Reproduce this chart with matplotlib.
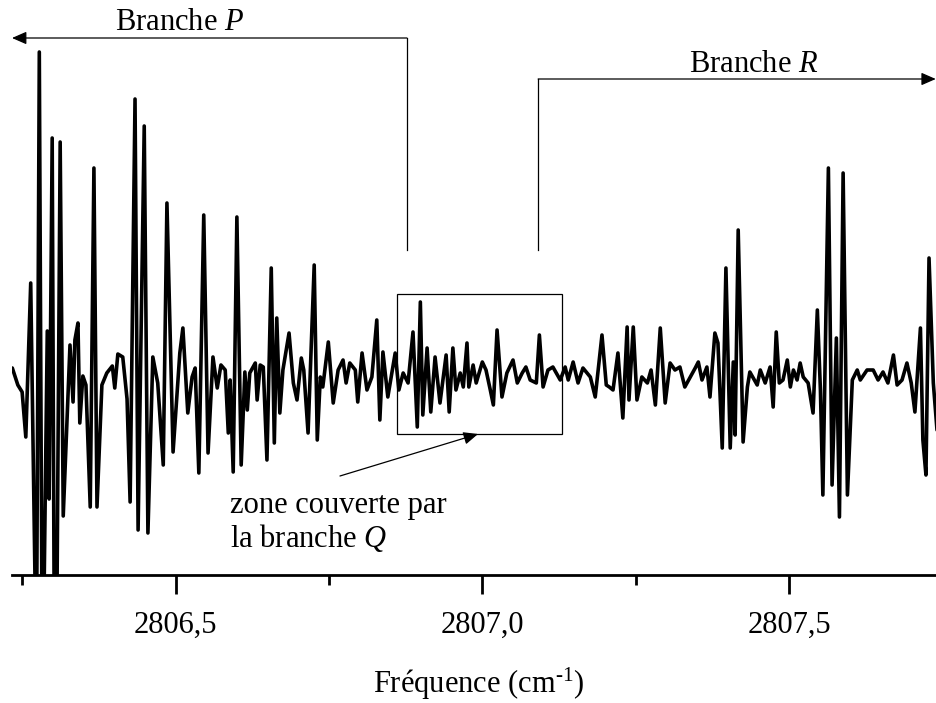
import matplotlib
matplotlib.use("Agg")
import matplotlib.pyplot as plt

plt.rcParams["font.family"] = ["Liberation Serif", "DejaVu Serif"]
plt.rcParams["mathtext.fontset"] = "custom"
plt.rcParams["mathtext.rm"] = "Liberation Serif"
plt.rcParams["mathtext.it"] = "Liberation Serif:italic"

# Spectrum (wavenumber in cm-1, signal in arbitrary units)
freq = [
    2806.234, 2806.243, 2806.250, 2806.256, 2806.264, 2806.268, 2806.271, 2806.274, 2806.278, 2806.282,
    2806.286, 2806.291, 2806.294, 2806.299, 2806.302, 2806.307, 2806.312, 2806.317, 2806.328, 2806.333,
    2806.336, 2806.341, 2806.344, 2806.349, 2806.354, 2806.361, 2806.367, 2806.372, 2806.380, 2806.388,
    2806.397, 2806.401, 2806.406, 2806.414, 2806.421, 2806.426, 2806.434, 2806.439, 2806.449, 2806.455,
    2806.463, 2806.471, 2806.480, 2806.486, 2806.496, 2806.507, 2806.512, 2806.520, 2806.527, 2806.532,
    2806.538, 2806.546, 2806.553, 2806.561, 2806.568, 2806.574, 2806.581, 2806.586, 2806.589, 2806.594,
    2806.600, 2806.607, 2806.613, 2806.617, 2806.621, 2806.630, 2806.633, 2806.638, 2806.643, 2806.649,
    2806.656, 2806.661, 2806.665, 2806.670, 2806.675, 2806.685, 2806.692, 2806.698, 2806.705, 2806.709,
    2806.716, 2806.726, 2806.731, 2806.736, 2806.740, 2806.749, 2806.757, 2806.765, 2806.773, 2806.778,
    2806.784, 2806.793, 2806.797, 2806.804, 2806.812, 2806.820, 2806.828, 2806.833, 2806.838, 2806.846,
    2806.858, 2806.864, 2806.871, 2806.879, 2806.887, 2806.894, 2806.899, 2806.903, 2806.910, 2806.916,
    2806.923, 2806.931, 2806.941, 2806.946, 2806.952, 2806.957, 2806.964, 2806.969, 2806.975, 2806.978,
    2806.985, 2806.990, 2807.000, 2807.006, 2807.013, 2807.018, 2807.024, 2807.032, 2807.040, 2807.050,
    2807.057, 2807.065, 2807.071, 2807.078, 2807.088, 2807.093, 2807.099, 2807.107, 2807.115, 2807.127,
    2807.135, 2807.140, 2807.148, 2807.156, 2807.164, 2807.176, 2807.184, 2807.195, 2807.202, 2807.207,
    2807.213, 2807.221, 2807.229, 2807.236, 2807.239, 2807.246, 2807.252, 2807.260, 2807.269, 2807.275,
    2807.282, 2807.290, 2807.298, 2807.306, 2807.314, 2807.322, 2807.330, 2807.339, 2807.347, 2807.352,
    2807.358, 2807.366, 2807.371, 2807.379, 2807.384, 2807.391, 2807.397, 2807.404, 2807.409, 2807.412,
    2807.417, 2807.425, 2807.432, 2807.436, 2807.448, 2807.453, 2807.461, 2807.469, 2807.474, 2807.479,
    2807.484, 2807.490, 2807.497, 2807.502, 2807.507, 2807.513, 2807.518, 2807.523, 2807.531, 2807.539,
    2807.546, 2807.551, 2807.555, 2807.564, 2807.570, 2807.577, 2807.582, 2807.588, 2807.595, 2807.603,
    2807.611, 2807.616, 2807.627, 2807.637, 2807.645, 2807.653, 2807.661, 2807.670, 2807.676, 2807.684,
    2807.692, 2807.699, 2807.705, 2807.714, 2807.718, 2807.723, 2807.728, 2807.735, 2807.741,
]

signal = [
    10, -7, -14, -59, 95, -76, -202, -202, 326, -202,
    -202, 47, -121, 240, -202, -202, 236, -138, 33, -24,
    38, 55, -45, 2, -7, -129, 210, -129, -7, 5,
    12, -10, 24, 21, -21, -124, 279, -152, 252, -155,
    21, -5, -87, 175, -74, 25, 50, -35, 1, 10,
    -95, 163, -75, 21, -10, 13, 8, -55, -2, -94,
    161, -87, 6, -32, 5, 15, -22, 13, 11, -82,
    110, -65, 60, -35, 8, 45, -5, -22, 20, 8,
    -55, 113, -62, 1, -9, 36, -25, 8, 18, -5,
    15, 8, -24, 25, -12, 1, 58, -42, 26, -19,
    25, -12, 5, -5, 46, -49, 76, -37, 30, -34,
    21, -25, 23, -34, 30, -12, 5, -9, 35, -9,
    13, -5, 16, 8, -12, -27, 48, -19, 5, 18,
    -5, 5, 11, -2, -5, 43, -9, 8, 11, -2,
    11, -2, 16, -5, 10, 1, -19, 43, -7, -9,
    -12, 25, -40, 51, -22, 51, -22, 1, -5, 8,
    -27, 50, -25, 15, 8, 11, -9, 1, 10, 16,
    -2, 11, -19, 45, 35, -70, 110, -70, 16, -57,
    148, -64, -9, 6, -7, 8, -5, 11, -29, 46,
    -5, -2, 18, -9, 8, -2, 15, 1, -5, -35,
    68, -12, -117, 210, -107, 40, -139, 205, -117, -2,
    8, -2, 8, 8, -2, 6, -5, 23, -7, -2,
    15, -5, -34, 50, -62, -97, 120, -5, -52,
]

major_ticks = [2806.5, 2807.0, 2807.5]
major_labels = ["2806,5", "2807,0", "2807,5"]
minor_ticks = [2806.25, 2806.75, 2807.25]

fig = plt.figure(figsize=(9.37, 7.03), dpi=100)
ax = fig.add_axes([12 / 937, 128 / 703, 925 / 937, 575 / 703])

ax.plot(freq, signal, color="black", lw=2.6, solid_joinstyle="round",
        solid_capstyle="round")

ax.set_xlim(2806.2335, 2807.741)
ax.set_ylim(-197, 378)

for side in ("top", "right", "left"):
    ax.spines[side].set_visible(False)
ax.spines["bottom"].set_linewidth(2.0)
ax.set_yticks([])
ax.set_xticks(major_ticks)
ax.set_xticklabels(major_labels)
ax.set_xticks(minor_ticks, minor=True)
ax.tick_params(axis="x", which="major", direction="out", length=13.5, width=2.0,
               pad=12, labelsize=22)
ax.tick_params(axis="x", which="minor", direction="out", length=7, width=2.0)

ax.set_xlabel("Fréquence (cm$^{\\mathregular{\u2010}1}$)", fontsize=22)
ax.xaxis.set_label_coords(0.505, -0.19)
ax.xaxis.label.set_va("center")

arrow_kw = dict(arrowstyle="-|>,head_length=0.8,head_width=0.35",
                mutation_scale=11, color="black", lw=0.9, shrinkA=0, shrinkB=0)

# P branch bracket
ax.plot([2806.877, 2806.877], [128, 340], color="black", lw=0.9, clip_on=False)
ax.annotate("", xy=(2806.2335, 340), xytext=(2806.877, 340),
            arrowprops=arrow_kw, annotation_clip=False)
ax.text(2806.507, 356, r"Branche $\mathit{P}$", fontsize=22, ha="center", va="center")

# R branch bracket
ax.plot([2807.091, 2807.091], [128, 299], color="black", lw=0.9, clip_on=False)
ax.annotate("", xy=(2807.739, 299), xytext=(2807.091, 299),
            arrowprops=arrow_kw, annotation_clip=False)
ax.text(2807.443, 313, r"Branche $\mathit{R}$", fontsize=22, ha="center", va="center")

# Q branch region
ax.add_patch(plt.Rectangle((2806.861, -56), 2807.130 - 2806.861, 140,
                           fill=False, edgecolor="black", lw=0.9))
ax.annotate("", xy=(2806.993, -56), xytext=(2806.768, -98), arrowprops=arrow_kw)
ax.text(2806.589, -135, "zone couverte par", fontsize=22, ha="left", va="baseline")
ax.text(2806.589, -169, r"la branche $\mathit{Q}$", fontsize=22, ha="left", va="baseline")

fig.savefig("out.png", dpi=100)
